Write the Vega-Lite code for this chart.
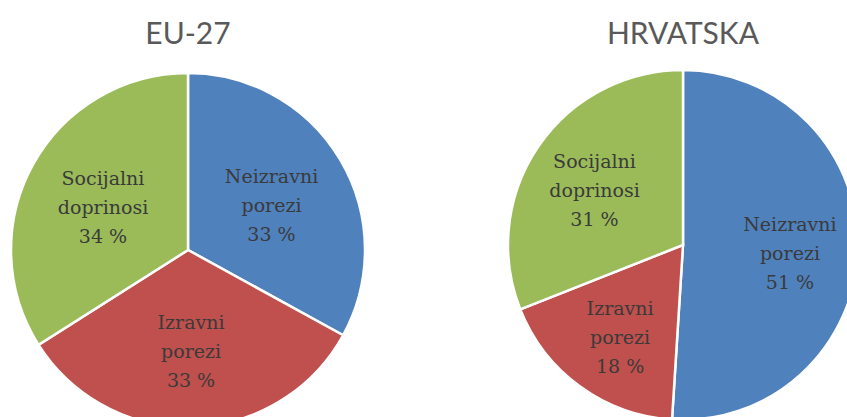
{
  "$schema": "https://vega.github.io/schema/vega-lite/v6.json",
  "padding": {"top": 20, "left": 0, "right": 0, "bottom": 0},
  "bounds": "flush",
  "background": "white",
  "config": {
    "view": {"stroke": null},
    "title": {"font": "Lato", "fontSize": 30, "fontWeight": "normal", "color": "#595959", "anchor": "middle", "offset": 5},
    "concat": {"spacing": 147}
  },
  "data": {
    "values": [
      {"country": "EU-27", "category": "Neizravni porezi", "share": 33},
      {"country": "EU-27", "category": "Izravni porezi", "share": 33},
      {"country": "EU-27", "category": "Socijalni doprinosi", "share": 34},
      {"country": "HRVATSKA", "category": "Neizravni porezi", "share": 51},
      {"country": "HRVATSKA", "category": "Izravni porezi", "share": 18},
      {"country": "HRVATSKA", "category": "Socijalni doprinosi", "share": 31}
    ]
  },
  "transform": [
    {"calculate": "indexof(['Neizravni porezi','Izravni porezi','Socijalni doprinosi'], datum.category)", "as": "rank"},
    {"calculate": "[split(datum.category, ' ')[0], split(datum.category, ' ')[1], datum.share + ' %']", "as": "label"}
  ],
  "hconcat": [
    {
      "title": "EU-27",
      "width": 376,
      "height": 390,
      "transform": [{"filter": "datum.country === 'EU-27'"}],
      "encoding": {
        "theta": {"field": "share", "type": "quantitative", "stack": true},
        "order": {"field": "rank", "type": "quantitative"}
      },
      "layer": [
        {
          "mark": {"type": "arc", "outerRadius": 177, "stroke": "white", "strokeWidth": 2.5},
          "encoding": {
            "color": {"field": "category", "type": "nominal", "legend": null,
              "scale": {"domain": ["Neizravni porezi", "Izravni porezi", "Socijalni doprinosi"], "range": ["#4F81BD", "#C0504D", "#9BBB59"]}}
          }
        },
        {
          "mark": {"type": "text", "radius": 97, "dy": -24, "font": "DejaVu Serif", "fontSize": 19, "lineHeight": 29, "color": "#3a3a3a", "baseline": "middle", "align": "center"},
          "encoding": {"text": {"field": "label"}}
        }
      ]
    },
    {
      "title": "HRVATSKA",
      "width": 320,
      "height": 380,
      "transform": [{"filter": "datum.country === 'HRVATSKA'"}],
      "encoding": {
        "theta": {"field": "share", "type": "quantitative", "stack": true},
        "order": {"field": "rank", "type": "quantitative"}
      },
      "layer": [
        {
          "mark": {"type": "arc", "outerRadius": 175, "stroke": "white", "strokeWidth": 2.5},
          "encoding": {
            "color": {"field": "category", "type": "nominal", "legend": null,
              "scale": {"domain": ["Neizravni porezi", "Izravni porezi", "Socijalni doprinosi"], "range": ["#4F81BD", "#C0504D", "#9BBB59"]}}
          }
        },
        {
          "mark": {"type": "text", "radius": 107, "dy": -23, "font": "DejaVu Serif", "fontSize": 19, "lineHeight": 29, "color": "#3a3a3a", "baseline": "middle", "align": "center"},
          "encoding": {"text": {"field": "label"}}
        }
      ]
    }
  ]
}
